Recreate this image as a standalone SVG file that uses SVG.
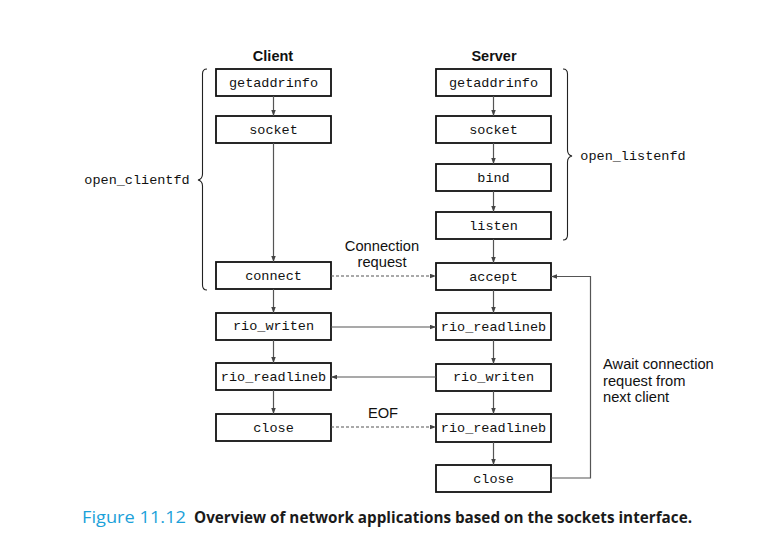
<svg xmlns="http://www.w3.org/2000/svg" width="760" height="560" viewBox="0 0 760 560">
  <style>
    .box { fill: #fff; stroke: #111; stroke-width: 1.8; }
    .fn { font-family: "Liberation Mono", "DejaVu Sans Mono", monospace; font-size: 13.5px; fill: #111; text-anchor: middle; }
    .lbl { font-family: "Liberation Sans", Arial, sans-serif; font-size: 14.7px; fill: #111; }
    .hdr { font-family: "Liberation Sans", Arial, sans-serif; font-size: 14.5px; font-weight: bold; fill: #111; text-anchor: middle; }
    .ln { fill: none; stroke: #555; stroke-width: 1.2; }
    .dash { stroke-dasharray: 3 2; }
    .brace { fill: none; stroke: #222; stroke-width: 1.1; }
  </style>
  <defs>
    <marker id="arr" viewBox="0 0 8 6" refX="8" refY="3" markerWidth="6" markerHeight="5" orient="auto" markerUnits="userSpaceOnUse">
      <path d="M0,0 L8,3 L0,6 Z" fill="#444"/>
    </marker>
  </defs>
  <rect width="760" height="560" fill="#fff"/>

  <text class="hdr" x="273" y="61">Client</text>
  <text class="hdr" x="494" y="61">Server</text>

  <!-- client column -->
  <g id="c-getaddrinfo"><rect class="box" x="216" y="69" width="115" height="27"/><text class="fn" x="273.5" y="87">getaddrinfo</text></g>
  <g id="c-socket"><rect class="box" x="216" y="116" width="115" height="27"/><text class="fn" x="273.5" y="134">socket</text></g>
  <g id="c-connect"><rect class="box" x="216" y="262" width="115" height="27"/><text class="fn" x="273.5" y="280">connect</text></g>
  <g id="c-rio-writen"><rect class="box" x="216" y="313" width="115" height="27"/><text class="fn" x="273.5" y="330">rio_writen</text></g>
  <g id="c-rio-readlineb"><rect class="box" x="216" y="363" width="115" height="27"/><text class="fn" x="273.5" y="381">rio_readlineb</text></g>
  <g id="c-close"><rect class="box" x="216" y="414" width="115" height="27"/><text class="fn" x="273.5" y="432">close</text></g>

  <!-- server column -->
  <g id="s-getaddrinfo"><rect class="box" x="436" y="69" width="115" height="27"/><text class="fn" x="493.5" y="87">getaddrinfo</text></g>
  <g id="s-socket"><rect class="box" x="436" y="116" width="115" height="27"/><text class="fn" x="493.5" y="134">socket</text></g>
  <g id="s-bind"><rect class="box" x="436" y="164" width="115" height="27"/><text class="fn" x="493.5" y="182">bind</text></g>
  <g id="s-listen"><rect class="box" x="436" y="212" width="115" height="27"/><text class="fn" x="493.5" y="230">listen</text></g>
  <g id="s-accept"><rect class="box" x="436" y="263" width="115" height="27"/><text class="fn" x="493.5" y="281">accept</text></g>
  <g id="s-rio-readlineb1"><rect class="box" x="436" y="313" width="115" height="27"/><text class="fn" x="493.5" y="331">rio_readlineb</text></g>
  <g id="s-rio-writen"><rect class="box" x="436" y="364" width="115" height="27"/><text class="fn" x="493.5" y="381">rio_writen</text></g>
  <g id="s-rio-readlineb2"><rect class="box" x="436" y="414" width="115" height="28"/><text class="fn" x="493.5" y="432">rio_readlineb</text></g>
  <g id="s-close"><rect class="box" x="436" y="465" width="115" height="27"/><text class="fn" x="493.5" y="483">close</text></g>

  <!-- braces grouping the helper functions -->
  <g id="brace-clientfd">
    <path class="brace" d="M207,69 Q202.5,69 202.5,74 L202.5,174 Q202.5,179 198,180 Q202.5,181 202.5,186 L202.5,285 Q202.5,290 207,290"/>
    <text class="fn" x="137" y="184">open_clientfd</text>
  </g>
  <g id="brace-listenfd">
    <path class="brace" d="M563,69 Q567.5,69 567.5,74 L567.5,150 Q567.5,155 572,156 Q567.5,157 567.5,162 L567.5,235 Q567.5,240 563,240"/>
    <text class="fn" x="633" y="160">open_listenfd</text>
  </g>

  <!-- connectors -->
  <g id="connectors">
    <line class="ln" x1="273.5" y1="96" x2="273.5" y2="116" marker-end="url(#arr)"/>
    <line class="ln" x1="273.5" y1="143" x2="273.5" y2="262" marker-end="url(#arr)"/>
    <line class="ln" x1="273.5" y1="289" x2="273.5" y2="313" marker-end="url(#arr)"/>
    <line class="ln" x1="273.5" y1="340" x2="273.5" y2="363" marker-end="url(#arr)"/>
    <line class="ln" x1="273.5" y1="390" x2="273.5" y2="414" marker-end="url(#arr)"/>

    <line class="ln" x1="493.5" y1="96" x2="493.5" y2="116" marker-end="url(#arr)"/>
    <line class="ln" x1="493.5" y1="143" x2="493.5" y2="164" marker-end="url(#arr)"/>
    <line class="ln" x1="493.5" y1="191" x2="493.5" y2="212" marker-end="url(#arr)"/>
    <line class="ln" x1="493.5" y1="239" x2="493.5" y2="263" marker-end="url(#arr)"/>
    <line class="ln" x1="493.5" y1="290" x2="493.5" y2="313" marker-end="url(#arr)"/>
    <line class="ln" x1="493.5" y1="340" x2="493.5" y2="364" marker-end="url(#arr)"/>
    <line class="ln" x1="493.5" y1="391" x2="493.5" y2="414" marker-end="url(#arr)"/>
    <line class="ln" x1="493.5" y1="442" x2="493.5" y2="465" marker-end="url(#arr)"/>

    <line class="ln dash" x1="331" y1="276" x2="436" y2="276" marker-end="url(#arr)"/>
    <line class="ln" x1="331" y1="327" x2="436" y2="327" marker-end="url(#arr)"/>
    <line class="ln" x1="436" y1="377" x2="331" y2="377" marker-end="url(#arr)"/>
    <line class="ln dash" x1="331" y1="427" x2="436" y2="427" marker-end="url(#arr)"/>

    <polyline class="ln" points="551,478 590.5,478 590.5,276.5 551,276.5" marker-end="url(#arr)"/>
  </g>

  <text class="lbl" x="382" y="251" text-anchor="middle">Connection</text>
  <text class="lbl" x="382" y="267" text-anchor="middle">request</text>
  <text class="lbl" x="383" y="418" text-anchor="middle">EOF</text>
  <text class="lbl" x="603" y="369">Await connection</text>
  <text class="lbl" x="603" y="386">request from</text>
  <text class="lbl" x="603" y="402">next client</text>

  <text x="82" y="523" font-family="'Open Sans', 'Liberation Sans', sans-serif" font-size="15.5px" fill="#1ba1d9" textLength="104" lengthAdjust="spacingAndGlyphs">Figure 11.12</text>
  <text x="194" y="523" font-family="'Open Sans', 'Liberation Sans', sans-serif" font-size="15.5px" font-weight="bold" fill="#1a1a1a" textLength="498" lengthAdjust="spacingAndGlyphs">Overview of network applications based on the sockets interface.</text>
</svg>
